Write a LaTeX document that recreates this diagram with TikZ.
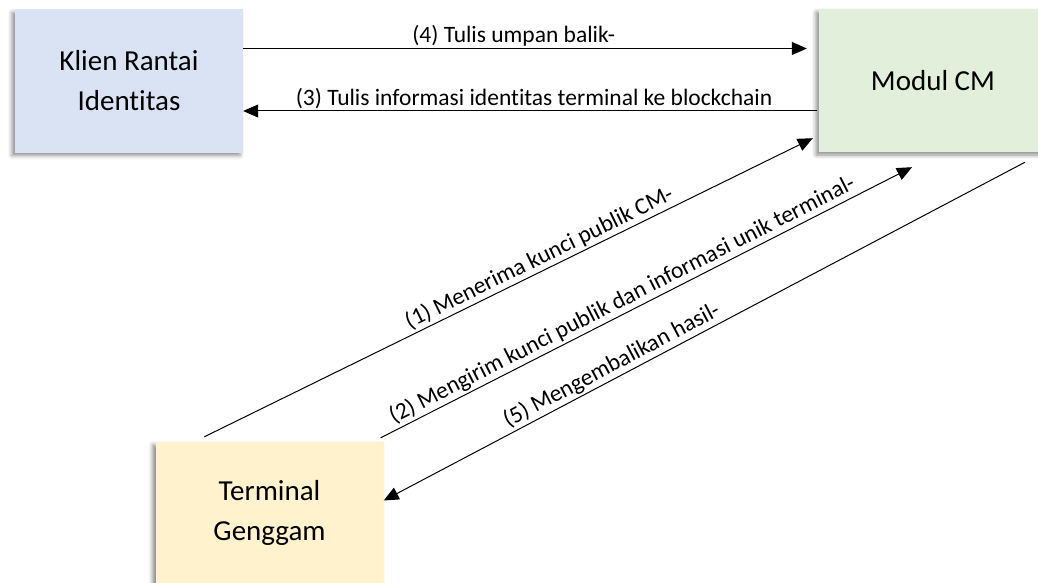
\documentclass[tikz,border=0pt]{standalone}
\usepackage{fontspec}
\setmainfont{Carlito}[Ligatures=NoCommon]
\usepackage{xcolor}
\usetikzlibrary{arrows.meta,
positioning,
calc,
shadows.blur}

\definecolor{klienfill}{HTML}{DAE3F3}
\definecolor{modulfill}{HTML}{E2EFDA}
\definecolor{termfill}{HTML}{FFF2CC}

\begin{document}
\begin{tikzpicture}[
		x=1pt, y=-1pt,
		>={Triangle[length=15pt,width=13pt]},
		entity/.style={
			draw=none,
			align=center,
			minimum width=228pt,
			minimum height=143pt,
			font=\fontsize{29}{40}\selectfont,
			blur shadow={shadow xshift=-3pt, shadow yshift=-3pt,
				shadow blur radius=4pt, shadow opacity=45}
		},
		msg/.style={
			font=\fontsize{23.5}{28}\selectfont,
			inner sep=2pt
		},
		flow/.style={
			->,
			line width=1pt
		}
		]
		
		\useasboundingbox (0,0) rectangle (1038,583);
		
		% Entities
		\node[entity, fill=klienfill] (klien) at (129,81)
		{Klien Rantai\\Identitas};
		
		\node[entity, fill=modulfill] (modul) at (933,80.5)
		{Modul CM};
		
		\node[entity, fill=termfill, minimum height=141pt] (term) at (269.5,512.5)
		{Terminal\\Genggam};
		
		% Messages between client and CM module
		\draw[flow] ($(klien.east)+(0,-32.5)$) --
		node[msg, above, pos=0.48] {(4) Tulis umpan balik-}
		($(modul.west)+(-12,-32)$);
		
		\draw[flow] ($(modul.west)+(-2,30.5)$) --
		node[msg, above, pos=0.493] {(3) Tulis informasi identitas terminal ke blockchain}
		($(klien.east)+(0,30)$);
		
		% Messages between terminal and CM module
		\draw[flow] ($(term.north west)+(49,-5)$) --
		node[msg, above, sloped, pos=0.56] {(1) Menerima kunci publik CM-}
		($(modul.south west)+(-6,-14)$);
		
		\draw[flow] ($(term.north east)+(-3,-4)$) --
		node[msg, above, sloped, pos=0.466] {(2) Mengirim kunci publik dan informasi unik terminal-}
		($(modul.south)+(-21,15)$);
		
		\draw[flow] ($(modul.south)+(92,10)$) --
		node[msg, above, sloped, pos=0.635] {(5) Mengembalikan hasil-}
		($(term.east)+(0,-12)$);
		
	\end{tikzpicture}
\end{document}
